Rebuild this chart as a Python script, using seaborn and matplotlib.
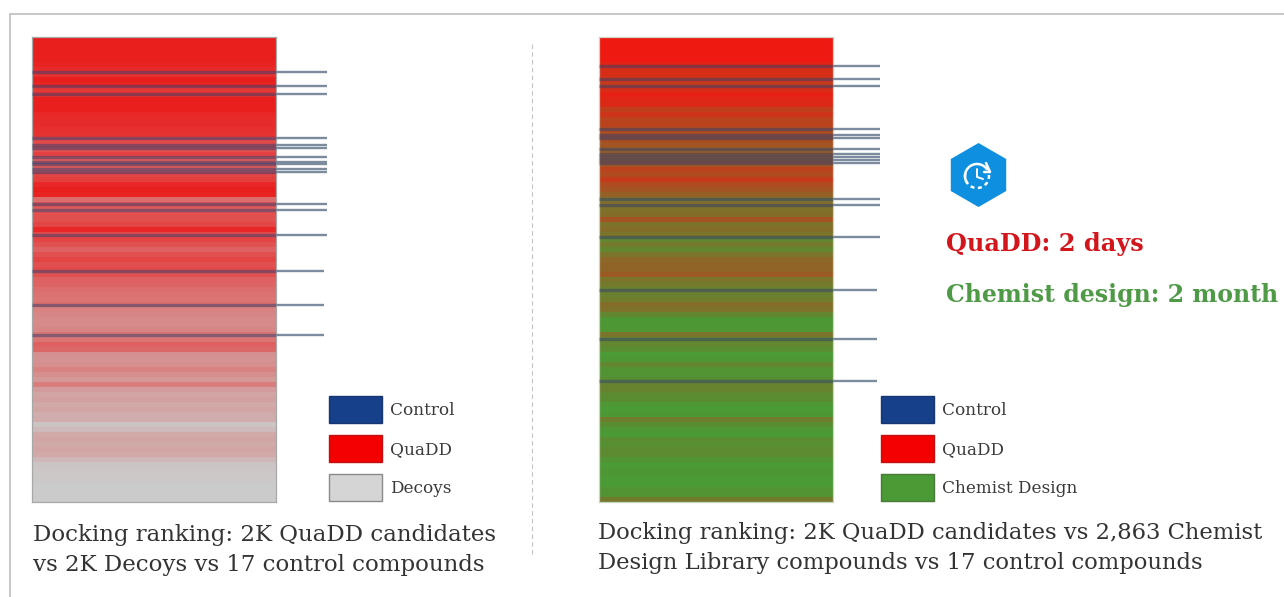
import numpy as np
import pandas as pd
import matplotlib
matplotlib.use("Agg")
import matplotlib.pyplot as plt
from matplotlib.colors import LinearSegmentedColormap
from matplotlib.patches import Patch, RegularPolygon
import seaborn as sns

# ---- data: share of QuaDD candidates in each ranking band (top = best rank)
decoy_share = [1, 1, 1, 1, 1, .97, .93, .9, 1, .97, .85, .9, 1, 1, 1, .95, .93, .93, .9, .88,
               .75, .75, .72, .8, .65, .65, .65, .78, .82, .95, 1, .97, .55, .7, .65, .72, .72, .78, .95, .75,
               .78, .7, .62, .72, .78, .72, .75, .7, .62, .6, .55, .52, .5, .55, .42, .4, .38, .38, .4, .5,
               .5, .62, .58, .35, .33, .35, .42, .35, .3, .45, .28, .22, .25, .2, .22, .18, .18, .05, .1, .2,
               .22, .2, .22, .2, .12, .04, .03, .02, .02, .01, 0, 0, 0]
chem_share = [1, 1, 1, 1, 1, .92, .85, .85, .8, .75, .85, .95, .9, .88, .72, .8, .68, .68, .62, .6,
              .6, .55, .48, .5, .5, .55, .68, .62, .75, .62, .55, .45, .3, .35, .32, .35, .55, .32, .35, .3,
              .15, .25, .15, .3, .4, .42, .42, .5, .3, .25, .2, .2, .22, .35, .32, .15, .02, .02, .03, .3,
              .15, .15, .1, 0, .02, .15, .05, .05, .1, .18, .18, .12, .1, .02, 0, .02, .22, .1, .02, 0,
              .1, .08, .12, .12, .05, 0, .02, .02, 0, 0, .05, .05, .25]
decoy_total = 4017
chem_total = 4880
decoy_controls = [302, 423, 492, 873, 933, 959, 1037, 1080, 1097, 1140, 1166, 1443, 1495, 1710, 2021, 2315, 2574]
chem_controls = [304, 441, 514, 966, 1028, 1060, 1175, 1228, 1259, 1291, 1322, 1700, 1763, 2099, 2655, 3169, 3610]
left_legend = ["Control", "QuaDD", "Decoys"]
right_legend = ["Control", "QuaDD", "Chemist Design"]
left_caption = ["Docking ranking: 2K QuaDD candidates", "vs 2K Decoys vs 17 control compounds"]
right_caption = ["Docking ranking: 2K QuaDD candidates vs 2,863 Chemist", "Design Library compounds vs 17 control compounds"]
time_labels = ["QuaDD: 2 days", "Chemist design: 2 month"]

W, H = 1284, 597
sns.set_theme(style="white")
SERIF = "DejaVu Serif"
plt.rcParams["font.family"] = [SERIF, "DejaVu Sans"]

fig = plt.figure(figsize=(W / 100, H / 100), dpi=100, facecolor="white")


def box(x0, y0, x1, y1):
    return [x0 / W, 1 - y1 / H, (x1 - x0) / W, (y1 - y0) / H]


# ---- background overlay in pixel units (frame, divider, icon)
bg = fig.add_axes([0, 0, 1, 1], zorder=0)
bg.set_xlim(0, W)
bg.set_ylim(H, 0)
bg.axis("off")
bg.plot([10, 10, W], [H, 14, 14], color="#bdbdbd", lw=1.2)
bg.plot([532, 532], [44, 556], color="#c4c4c4", lw=0.8, ls=(0, (4, 3)))
bg.add_patch(RegularPolygon((978.5, 175), 6, radius=32, color="#0f8fe0", lw=0))
t = np.radians(np.linspace(-35, -215, 40))
bg.plot(977 + 12 * np.cos(t), 176 + 12 * np.sin(t), color="white", lw=1.8)
t = np.radians(np.linspace(-5, 195, 40))
bg.plot(977 + 12 * np.cos(t), 176 + 12 * np.sin(t), color="white", lw=1.8, ls=(0, (1.6, 1.4)))
bg.plot([986, 990, 984], [163, 172, 172], color="white", lw=1.8)
bg.plot([977, 977, 983], [169, 177, 179], color="white", lw=1.4)


def stripes(pos, share, total, controls, low, high, edge, line_end):
    ax = fig.add_axes(box(*pos), zorder=1)
    cmap = LinearSegmentedColormap.from_list("mix", [low, high])
    df = pd.DataFrame({"share": share})
    sns.heatmap(df, ax=ax, cmap=cmap, vmin=0, vmax=1, cbar=False,
                xticklabels=False, yticklabels=False)
    ax.set_xlabel("")
    ax.set_ylabel("")
    for s in ax.spines.values():
        s.set_visible(True)
        s.set_color(edge)
        s.set_linewidth(0.9)
    trans = ax.get_yaxis_transform()
    rows = np.array(controls) / total * len(share)
    ax.hlines(rows, 0, 1, transform=trans, color="#33406e", alpha=0.5, lw=2.4, zorder=3)
    ax.hlines(rows[:14], 1, line_end, transform=trans, color="#7d8b9e", lw=1.7, clip_on=False, zorder=3)
    ax.hlines(rows[14:], 1, line_end - 0.012, transform=trans, color="#7d8b9e", lw=1.7, clip_on=False, zorder=3)
    return ax


stripes((32, 37, 276, 502), decoy_share, decoy_total, decoy_controls, "#cbcbcb", "#e91f1e", "#a8a8a8", 1.209)
stripes((599, 37, 833, 502), chem_share, chem_total, chem_controls, "#4a9a35", "#ee1a12", "#c9d4c2", 1.2)


def legend(x0, y0, labels, colors, edges):
    fs = 12.2
    px = fs * 100 / 72
    handles = [Patch(facecolor=c, edgecolor=e, linewidth=1.0, label=l) for c, e, l in zip(colors, edges, labels)]
    fig.legend(handles=handles, loc="upper left", bbox_to_anchor=(x0 / W, 1 - y0 / H),
               bbox_transform=fig.transFigure, frameon=False, fontsize=fs, borderpad=0, borderaxespad=0,
               handlelength=53 / px, handleheight=2.075, labelspacing=12 / px, handletextpad=8 / px,
               labelcolor="#3a3a3a")


legend(329, 396, left_legend, ["#17408b", "#f40000", "#d5d5d5"], ["#17356f", "#c01010", "#8a8a8a"])
legend(881, 396, right_legend, ["#17408b", "#f40000", "#4a9a35"], ["#17356f", "#c01010", "#4a7a3a"])


def px_text(x, y, s, **kw):
    fig.text(x / W, 1 - y / H, s, va="baseline", ha="left", **kw)


for y, s in zip([541, 571], left_caption):
    px_text(33, y, s, fontsize=16.45, color="#333333")
for y, s in zip([539, 569], right_caption):
    px_text(598, y, s, fontsize=16.3, color="#333333")
px_text(946, 251, time_labels[0], fontsize=17.3, fontweight="bold", color="#d2161c")
px_text(946, 302, time_labels[1], fontsize=17.0, fontweight="bold", color="#4f9a47")

fig.savefig("out.png", dpi=100)
